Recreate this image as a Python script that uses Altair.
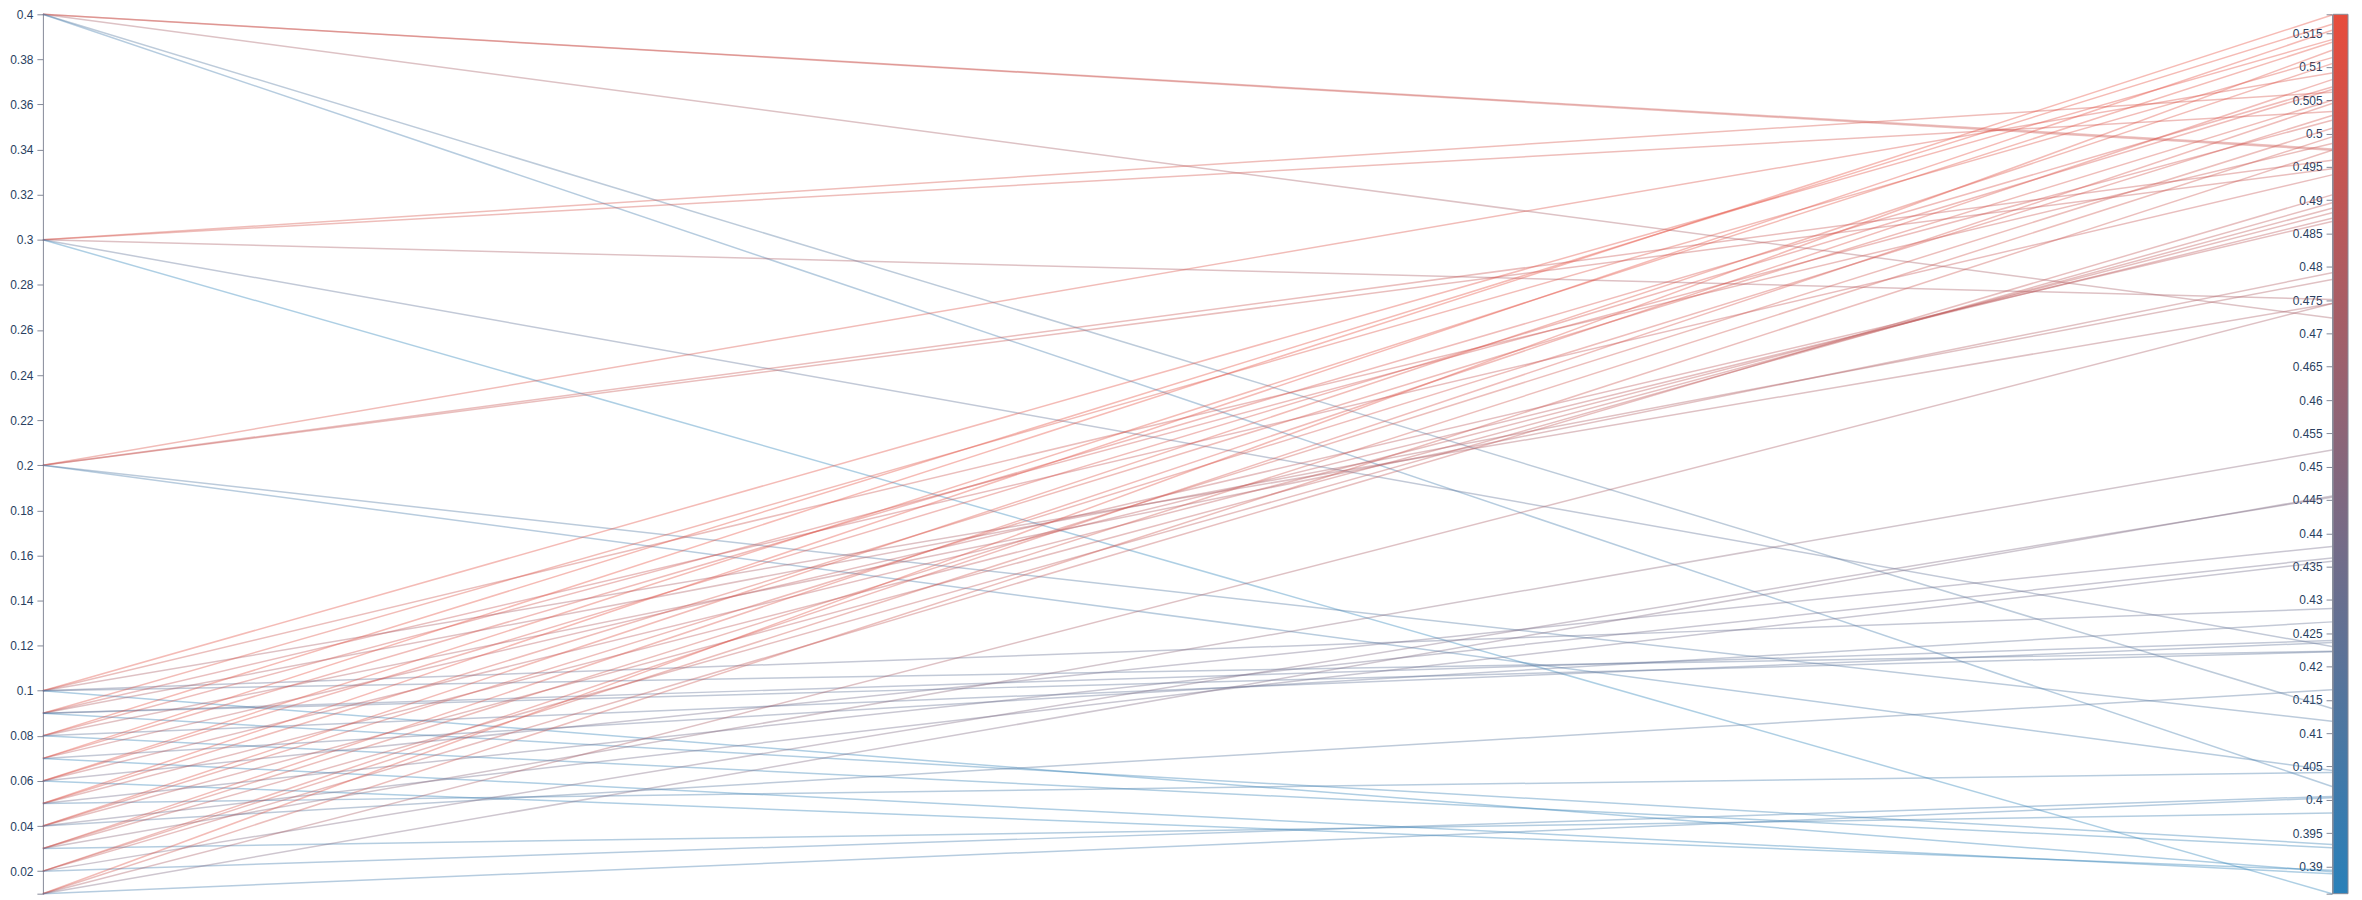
import altair as alt
import pandas as pd

# First dimension (left axis) levels and, for each, the values reached on the second dimension (right axis)
left_levels = [0.4, 0.3, 0.2, 0.1, 0.09, 0.08, 0.07, 0.06, 0.05, 0.04, 0.03, 0.02, 0.01]
right_values = [
    [0.4977, 0.4975, 0.4723, 0.4137, 0.4020],
    [0.5062, 0.5033, 0.4751, 0.4230, 0.3859],
    [0.5091, 0.4960, 0.4947, 0.4118, 0.4044],
    [0.5141, 0.4985, 0.4745, 0.4287, 0.4223, 0.3892],
    [0.5114, 0.4938, 0.4781, 0.4239, 0.4222, 0.3933],
    [0.5164, 0.5020, 0.4791, 0.4236, 0.3928],
    [0.5178, 0.5070, 0.4868, 0.4267, 0.3889],
    [0.5137, 0.5066, 0.4873, 0.4380, 0.3894],
    [0.5155, 0.5050, 0.4881, 0.4363, 0.4041],
    [0.5105, 0.5027, 0.4888, 0.4358, 0.4165],
    [0.5081, 0.5008, 0.4896, 0.4525, 0.3980],
    [0.5045, 0.4995, 0.4908, 0.4454, 0.4005],
    [0.5125, 0.4975, 0.4745, 0.4456, 0.4003],
]

left_ticks = [0.01, 0.02, 0.04, 0.06, 0.08, 0.10, 0.12, 0.14, 0.16, 0.18, 0.20,
              0.22, 0.24, 0.26, 0.28, 0.30, 0.32, 0.34, 0.36, 0.38, 0.40]
right_ticks = [0.3859, 0.39, 0.395, 0.40, 0.405, 0.41, 0.415, 0.42, 0.425, 0.43, 0.435,
               0.44, 0.445, 0.45, 0.455, 0.46, 0.465, 0.47, 0.475, 0.48, 0.485,
               0.49, 0.495, 0.50, 0.505, 0.51, 0.515, 0.5179]

L_MIN, L_MAX = 0.01, 0.4
R_MIN, R_MAX = 0.3859, 0.5179
W, H = 2296, 882

rows = []
run = 0
for lv, rvs in zip(left_levels, right_values):
    for rv in rvs:
        rows.append({"run": run, "left": lv, "right": rv})
        run += 1
df = pd.DataFrame(rows)

base = alt.Chart(df)

lines = (
    base.transform_calculate(
        a0=f"(datum.left - {L_MIN}) / ({L_MAX} - {L_MIN})",
        a1=f"(datum.right - {R_MIN}) / ({R_MAX} - {R_MIN})",
    )
    .transform_fold(["a0", "a1"], as_=["dim", "pos"])
    .transform_calculate(xpos="datum.dim == 'a0' ? 0 : 1")
    .mark_line(strokeWidth=1.5, strokeOpacity=0.38)
    .encode(
        x=alt.X("xpos:Q", scale=alt.Scale(domain=[0, 1], nice=False, zero=False), axis=None),
        y=alt.Y("pos:Q", scale=alt.Scale(domain=[0, 1], nice=False, zero=False), axis=None),
        color=alt.Color(
            "right:Q",
            scale=alt.Scale(domain=[R_MIN, R_MAX], range=["#2980b9", "#e74c3c"], interpolate="rgb"),
            legend=alt.Legend(
                orient="none", legendX=W + 1, legendY=0, direction="vertical",
                gradientLength=H, gradientThickness=15, title=None, labelExpr="''",
                gradientStrokeColor="#8a8d99", gradientStrokeWidth=1, padding=0,
                gradientOpacity=1,
            ),
        ),
        detail="run:N",
    )
)

axis_style = dict(
    format="~g", labelFlush=False, labelOverlap=False, grid=False,
    domainColor="#858a99", tickColor="#858a99", labelColor="#2a3f5f",
    labelFont="Liberation Sans", labelFontSize=12, tickSize=6, labelPadding=4,
    domainWidth=1, tickWidth=1,
)

left_axis = base.mark_point(opacity=0).encode(
    y=alt.Y(
        "left:Q",
        scale=alt.Scale(domain=[L_MIN, L_MAX], nice=False, zero=False),
        axis=alt.Axis(orient="left", values=left_ticks, title=None,
                      labelExpr="datum.value < 0.015 ? '' : datum.label", **axis_style),
    )
)

right_axis = base.mark_point(opacity=0).encode(
    y=alt.Y(
        "right:Q",
        scale=alt.Scale(domain=[R_MIN, R_MAX], nice=False, zero=False),
        axis=alt.Axis(orient="left", offset=-W, values=right_ticks, title=None,
                      labelExpr="(datum.value < 0.387 || datum.value > 0.517) ? '' : datum.label",
                      **axis_style),
    )
)

chart = (
    alt.layer(lines, left_axis, right_axis)
    .resolve_scale(y="independent")
    .properties(
        width=W, height=H,
        autosize=alt.AutoSizeParams(type="none"),
        padding={"left": 35, "top": 5, "right": 22, "bottom": 2},
    )
    .configure_view(stroke=None)
)

chart.save("out.html", embed_options={"renderer": "svg", "actions": False})
